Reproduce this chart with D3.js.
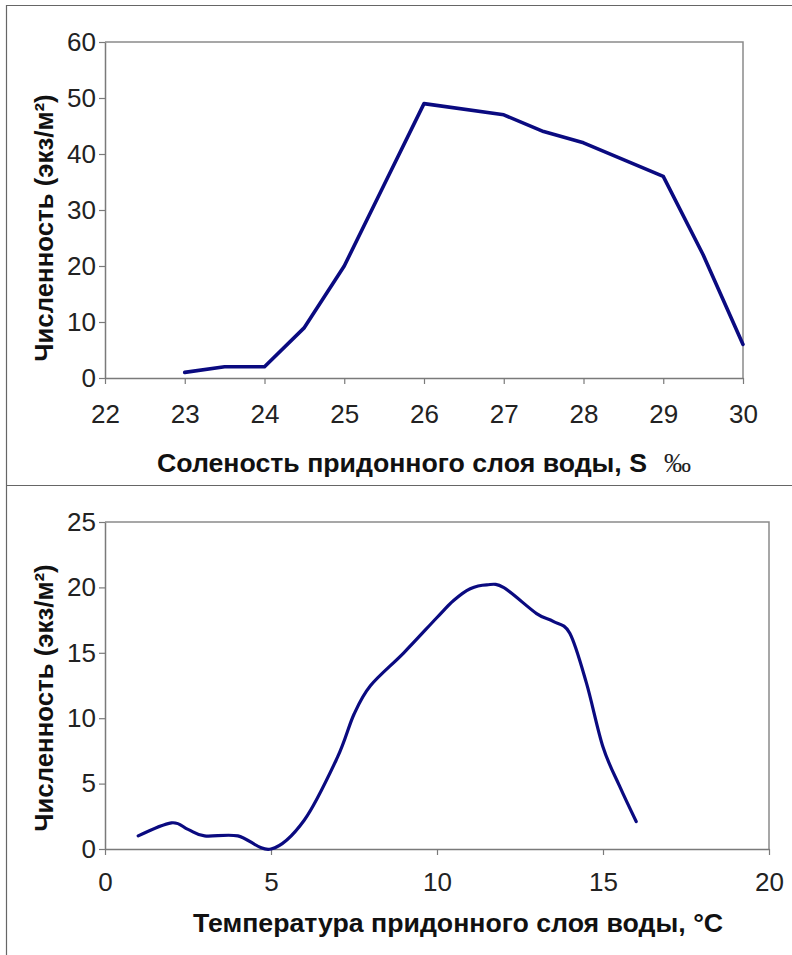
<!DOCTYPE html>
<html>
<head>
<meta charset="utf-8">
<script src="https://cdn.jsdelivr.net/npm/d3@7"></script>
<style>
  body { margin: 0; background: #fff; }
  svg { display: block; }
  .tick text { font-family: Arial, "Liberation Sans", sans-serif; font-size: 26px; fill: #222; }
  .title { font-family: Arial, "Liberation Sans", sans-serif; font-weight: bold; font-size: 26.7px; fill: #111; }
  .ytitle { font-size: 25.8px; }
</style>
</head>
<body>
<svg id="chart" width="792" height="955"></svg>
<script>
// salinity panel
const salinity = [23, 23.5, 24, 24.5, 25, 25.5, 26, 27, 27.5, 28, 28.5, 29, 29.5, 30];
const salinityCount = [1, 2, 2, 9, 20, 34.5, 49, 47, 44, 42, 39, 36, 22, 6];
const salinityTicks = [22, 23, 24, 25, 26, 27, 28, 29, 30];
const salinityYTicks = [0, 10, 20, 30, 40, 50, 60];

// temperature panel
const temperature = [1, 2, 2.5, 3, 4, 5, 6, 7, 7.5, 8, 9, 10, 10.5, 11, 11.5, 12, 13, 13.5, 14, 14.5, 15, 15.5, 16];
const temperatureCount = [1, 2, 1.5, 1, 1, 0, 2.2, 7, 10.3, 12.5, 15, 17.7, 19, 19.9, 20.2, 20, 18, 17.4, 16.5, 12.7, 7.8, 4.8, 2.1];
const temperatureTicks = [0, 5, 10, 15, 20];
const temperatureYTicks = [0, 5, 10, 15, 20, 25];

const yTitle = 'Численность (экз/м²)';

const svg = d3.select('#chart');

// outer frame lines
svg.append('line').attr('x1', 6).attr('x2', 792).attr('y1', 5.5).attr('y2', 5.5).attr('stroke', '#666').attr('stroke-width', 1.2);
svg.append('line').attr('x1', 6).attr('x2', 792).attr('y1', 485.5).attr('y2', 485.5).attr('stroke', '#666').attr('stroke-width', 1.2);
svg.append('line').attr('x1', 6.5).attr('x2', 6.5).attr('y1', 5).attr('y2', 955).attr('stroke', '#666').attr('stroke-width', 1.2);

function drawPanel(opts) {
  const { xs, ys, xDomain, yDomain, xTicks, yTicks, left, right, top, bottom, curve, lineWidth, xPad } = opts;
  const x = d3.scaleLinear().domain(xDomain).range([left, right]);
  const y = d3.scaleLinear().domain(yDomain).range([bottom, top]);
  const g = svg.append('g');

  // plot box (top and right edges)
  g.append('path')
    .attr('d', `M${left},${top}H${right}V${bottom}`)
    .attr('fill', 'none').attr('stroke', '#8a8a8a').attr('stroke-width', 1.5);

  const yAxis = g.append('g').attr('transform', `translate(${left},0)`)
    .call(d3.axisLeft(y).tickValues(yTicks).tickSize(6).tickPadding(3).tickSizeOuter(0));
  const xAxis = g.append('g').attr('transform', `translate(0,${bottom})`)
    .call(d3.axisBottom(x).tickValues(xTicks).tickSize(6).tickPadding(xPad).tickSizeOuter(0));
  for (const ax of [xAxis, yAxis]) {
    ax.attr('font-size', null).attr('font-family', null);
    ax.select('.domain').attr('stroke', '#7a7a7a').attr('stroke-width', 1.5);
    ax.selectAll('.tick line').attr('stroke', '#7a7a7a').attr('stroke-width', 1.2);
  }

  const line = d3.line().x((d, i) => x(xs[i])).y(d => y(d)).curve(curve);
  g.append('path').datum(ys)
    .attr('d', line)
    .attr('fill', 'none')
    .attr('stroke', '#0a0a80')
    .attr('stroke-width', lineWidth)
    .attr('stroke-linejoin', 'round')
    .attr('stroke-linecap', 'round');
  return g;
}

drawPanel({
  xs: salinity, ys: salinityCount, xDomain: [22, 30], yDomain: [0, 60],
  xTicks: salinityTicks, yTicks: salinityYTicks,
  left: 105, right: 743, top: 42, bottom: 378,
  curve: d3.curveLinear, lineWidth: 3.6, xPad: 21
});

drawPanel({
  xs: temperature, ys: temperatureCount, xDomain: [0, 20], yDomain: [0, 25],
  xTicks: temperatureTicks, yTicks: temperatureYTicks,
  left: 105, right: 769, top: 522, bottom: 849,
  curve: d3.curveCardinal.tension(0), lineWidth: 3.2, xPad: 18
});

// axis titles
svg.append('text').attr('class', 'title ytitle')
  .attr('transform', 'translate(53,228) rotate(-90)')
  .attr('text-anchor', 'middle')
  .text(yTitle);
svg.append('text').attr('class', 'title ytitle')
  .attr('transform', 'translate(53,698) rotate(-90)')
  .attr('text-anchor', 'middle')
  .text(yTitle);

svg.append('text').attr('class', 'title')
  .attr('x', 157).attr('y', 472)
  .text('Соленость придонного слоя воды, S');
svg.append('text')
  .attr('x', 664).attr('y', 472)
  .attr('font-family', '"Liberation Serif", "DejaVu Serif", serif')
  .attr('font-size', 27).attr('fill', '#222')
  .text('‰');

svg.append('text').attr('class', 'title')
  .attr('x', 193).attr('y', 932)
  .text('Температура придонного слоя воды, °С');
</script>
</body>
</html>
